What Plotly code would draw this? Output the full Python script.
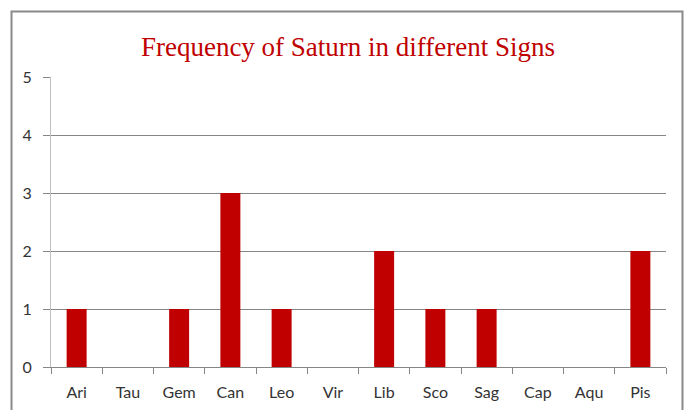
import plotly.graph_objects as go

signs = ["Ari", "Tau", "Gem", "Can", "Leo", "Vir", "Lib", "Sco", "Sag", "Cap", "Aqu", "Pis"]
counts = [1, 0, 1, 3, 1, 0, 2, 1, 1, 0, 0, 2]
y_ticks = [0, 1, 2, 3, 4, 5]

# page body has an 8px margin; compensate so the screenshot lines up
OFF = 8
W, H = 692, 410
L, R, T, B = 51 - OFF, 26 + OFF, 77 - OFF, 43 + OFF
pw, ph = W - L - R, H - T - B

def px_x(p):
    return (p - OFF - L) / pw

def px_y(q):
    return (H - B - (q - OFF)) / ph

fig = go.Figure(go.Bar(x=signs, y=counts, marker=dict(color="#C00000", line=dict(width=0)), width=0.39))

fig.update_layout(
    width=W, height=H,
    margin=dict(l=L, r=R, t=T, b=B),
    paper_bgcolor="white", plot_bgcolor="white",
    showlegend=False,
    title=dict(text="Frequency of Saturn in different Signs", x=(348 - OFF) / W, xanchor="center",
               y=1 - (47 - OFF) / H, yanchor="middle",
               font=dict(family="Liberation Serif", size=27, color="#C00000")),
    xaxis=dict(type="category", showgrid=False, showline=True, linecolor="#868686", linewidth=1,
               ticks="outside", tickson="boundaries", ticklen=6, tickcolor="#868686",
               tickfont=dict(family="Lato", size=16, color="#333333"), ticklabelstandoff=11),
    yaxis=dict(range=[0, 5], tickvals=y_ticks, showgrid=True, gridcolor="#868686", gridwidth=1,
               showline=True, linecolor="#BFBFBF", linewidth=1, zeroline=False,
               ticks="outside", ticklen=7, tickcolor="#868686",
               tickfont=dict(family="Lato", size=16, color="#333333"), ticklabelstandoff=8),
    shapes=[dict(type="rect", xref="paper", yref="paper",
                 x0=px_x(11.5), x1=px_x(682.5), y0=px_y(420), y1=px_y(11.5),
                 line=dict(color="#898989", width=2), fillcolor="rgba(0,0,0,0)", layer="below")],
)

fig.write_html("out.html")
